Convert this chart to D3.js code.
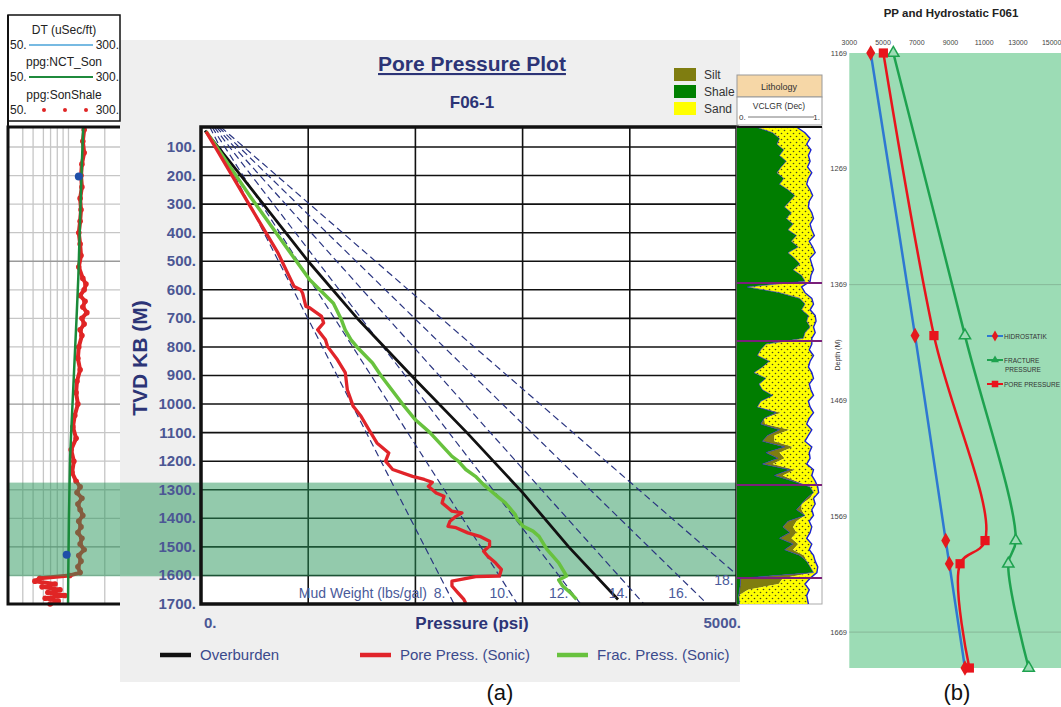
<!DOCTYPE html>
<html>
<head>
<meta charset="utf-8">
<script src="https://cdn.jsdelivr.net/npm/d3@7"></script>
<style>
body{margin:0;background:#fff}
svg{display:block;font-family:"Liberation Sans",Arial,sans-serif}
</style>
</head>
<body>
<div id="chart"></div>
<script>
// ---------- (a) pore pressure plot ----------
var depthTicks = [100,200,300,400,500,600,700,800,900,1000,1100,1200,1300,1400,1500,1600,1700];
var pressureGrid = [1000,2000,3000,4000];
var mudWeights = [8,10,12,14,16,18];

var obDepth = [43,204,500,705,915,1100,1310,1500,1684];
var obPsi   = [37,380,1000,1470,2000,2480,3000,3430,3890];

var ppDepth = [46,309,471,588,600,612,658,663,693,716,740,775,798,845,890,950,1008,1043,1090,1136,1171,1200,1229,1253,1264,1274,1288,1311,1323,1346,1375,1381,1393,1410,1428,1433,1451,1463,1480,1497,1515,1532,1556,1579,1602,1604,1620,1637,1661,1684,1697];
var ppPsi   = [48,461,718,868,930,948,978,1014,1125,1144,1088,1161,1180,1273,1346,1365,1420,1493,1567,1641,1752,1722,1788,1973,2083,2158,2121,2194,2267,2249,2341,2434,2379,2323,2304,2379,2489,2600,2692,2692,2636,2673,2747,2802,2784,2563,2341,2341,2397,2452,2470];

var fpDepth = [46,274,449,565,647,705,740,775,800,856,900,1000,1055,1100,1183,1200,1229,1253,1282,1300,1323,1346,1387,1404,1428,1445,1463,1509,1556,1602,1616,1637,1661,1684];
var fpPsi   = [48,461,793,1014,1235,1310,1345,1400,1455,1600,1678,1880,2000,2136,2341,2400,2470,2560,2636,2692,2765,2839,2932,2950,3006,3097,3153,3227,3337,3410,3337,3374,3448,3503];

var zoneTop = 1275, zoneBase = 1603;

// left log track (DT / NCT / SonShale)
var trackGrid = [83,106,129,145,160,173,185,266];
var nctDepth = [30,150,300,450,555,700,900,1100,1194,1400,1600,1700];
var nctDT    = [218,215,212,209,207,203,197,191,188.5,186,184.5,184];
var sonDepth = [40,80,120,160,200,240,280,320,360,400,440,480,520,560,580,600,620,640,660,680,700,720,740,760,800,840,880,920,960,1000,1040,1080,1120,1160,1200,1240,1270,1290,1310,1330,1350,1370,1390,1410,1430,1450,1470,1490,1510,1530,1550,1570,1590,1600,1610,1620,1630,1640,1650,1660,1670,1680,1690,1700];
var sonDT    = [220,217,220,215,213,215,211,213,211,208,211,213,208,217,224,220,211,222,217,226,215,220,211,215,208,206,211,204,202,206,199,195,202,191,197,193,202,211,204,215,206,211,217,208,213,206,215,211,220,208,213,206,211,188,121,110,155,126,166,139,177,133,162,144];
var refDepth = [203,1528];
var refDT    = [208,181];

// lithology track (VCLGR fractions)
var lithoDepth = [30,50,70,90,110,130,150,170,190,210,230,250,270,290,310,330,350,370,390,410,430,450,470,490,510,530,550,570,
  590,610,630,650,670,690,710,730,750,770,
  790,810,830,850,870,890,910,930,950,970,990,1010,1030,1050,1070,1090,1110,1130,1150,1170,1190,1210,1230,1250,1270,
  1290,1310,1330,1350,1370,1390,1410,1430,1450,1470,1490,1510,1530,1550,1570,1590,
  1610,1630,1650,1670,1700];
var shaleFrac = [0.22,0.42,0.5,0.47,0.55,0.5,0.58,0.52,0.47,0.55,0.5,0.6,0.68,0.62,0.56,0.64,0.58,0.66,0.6,0.7,0.64,0.72,0.6,0.68,0.74,0.66,0.76,0.8,
  0.12,0.5,0.74,0.8,0.76,0.84,0.82,0.86,0.8,0.78,
  0.34,0.28,0.24,0.38,0.3,0.2,0.34,0.26,0.3,0.42,0.28,0.24,0.46,0.32,0.28,0.5,0.36,0.3,0.56,0.34,0.48,0.3,0.62,0.44,0.66,
  0.86,0.9,0.82,0.76,0.7,0.8,0.6,0.54,0.62,0.5,0.66,0.56,0.74,0.82,0.86,0.9,
  0.04,0.04,0.03,0.02,0.03];
var siltFrac = [0,0,0,0,0,0,0,0,0,0,0,0,0,0,0,0,0,0,0,0,0,0,0,0,0,0,0,0,
  0,0,0,0,0,0,0,0,0,0,
  0,0,0,0,0,0,0,0,0,0,0,0,0.06,0,0.05,0.12,0.08,0.14,0.1,0.16,0.08,0.12,0.06,0.1,0.04,
  0,0,0.04,0,0.06,0,0.1,0.12,0.08,0.14,0.06,0.1,0.05,0,0,0,
  0.5,0.45,0.1,0,0];
var sandEdge = [0.7,0.8,0.86,0.82,0.87,0.84,0.86,0.83,0.88,0.84,0.82,0.86,0.89,0.85,0.84,0.88,0.9,0.86,0.88,0.91,0.85,0.89,0.92,0.86,0.88,0.9,0.87,0.86,
  0.76,0.8,0.88,0.9,0.86,0.92,0.93,0.9,0.92,0.88,
  0.88,0.85,0.9,0.86,0.84,0.88,0.9,0.85,0.87,0.9,0.84,0.86,0.9,0.85,0.82,0.88,0.84,0.8,0.88,0.85,0.86,0.82,0.9,0.88,0.92,
  0.95,0.96,0.9,0.92,0.88,0.9,0.85,0.88,0.86,0.82,0.88,0.85,0.9,0.92,0.95,0.94,
  0.86,0.8,0.85,0.82,0.84];
var lithoTops = [576,779,1283,1609];

// ---------- (b) PP and Hydrostatic ----------
var bDepth = [1169,1413,1590,1610,1700];
var bHydro = [4270,6900,8720,8930,9860];
var bPore  = [5020,8020,11050,9570,10120];
var bFrac  = [5610,9860,12870,12430,13640];
var bTicksX = [3000,5000,7000,9000,11000,13000,15000];
var bTicksY = [1169,1269,1369,1469,1569,1669];
var bGrid = [1369,1669];

var navy = "#2c3476", slate = "#4b5794";

var svg = d3.select("#chart").append("svg").attr("width",1061).attr("height",707);
var defs = svg.append("defs");
defs.append("clipPath").attr("id","plotClip").append("rect")
  .attr("x",201).attr("y",127).attr("width",536).attr("height",477);
var pat = defs.append("pattern").attr("id","sand").attr("patternUnits","userSpaceOnUse")
  .attr("width",6).attr("height",6);
pat.append("rect").attr("width",6).attr("height",6).attr("fill","#ffff00");
pat.append("circle").attr("cx",1.5).attr("cy",1.5).attr("r",0.8).attr("fill","#4a4a20");
pat.append("circle").attr("cx",4.5).attr("cy",4.5).attr("r",0.8).attr("fill","#4a4a20");

svg.append("rect").attr("width",1061).attr("height",707).attr("fill","#fff");
svg.append("rect").attr("x",120).attr("y",40).attr("width",620).attr("height",642).attr("fill","#efefef");

var y = d3.scaleLinear().domain([30,1700]).range([127,604]);
var x = d3.scaleLinear().domain([0,5000]).range([201,737]);
var xDT = d3.scaleLinear().domain([50,300]).range([8,120]);
var xV = d3.scaleLinear().domain([0,1]).range([737,822]);

// ----- left track -----
var hdr = svg.append("g");
hdr.append("rect").attr("x",8).attr("y",15).attr("width",112).attr("height",106)
  .attr("fill","#fff").attr("stroke","#111").attr("stroke-width",1.5);
var hdrRows = [["DT (uSec/ft)",34,"line","#4aa3d8"],["ppg:NCT_Son",66,"line","#1f8a3c"],["ppg:SonShale",99,"dots","#e02525"]];
hdrRows.forEach(function(r){
  hdr.append("text").attr("x",64).attr("y",r[1]).attr("text-anchor","middle")
    .attr("font-size",12).attr("fill","#222").text(r[0]);
  hdr.append("text").attr("x",10).attr("y",r[1]+15).attr("font-size",12).attr("fill","#222").text("50.");
  hdr.append("text").attr("x",119).attr("y",r[1]+15).attr("text-anchor","end").attr("font-size",12).attr("fill","#222").text("300.");
  if (r[2]=="line") {
    hdr.append("line").attr("x1",29).attr("x2",93).attr("y1",r[1]+11).attr("y2",r[1]+11)
      .attr("stroke",r[3]).attr("stroke-width",r[3]=="#1f8a3c"?2:1.3);
  } else {
    [44,65,86].forEach(function(cx){
      hdr.append("circle").attr("cx",cx).attr("cy",r[1]+11).attr("r",2).attr("fill",r[3]);
    });
  }
});
svg.append("rect").attr("x",8).attr("y",127).attr("width",112).attr("height",477).attr("fill","#fff");
svg.append("g").selectAll("line").data(trackGrid).enter().append("line")
  .attr("x1",function(d){return xDT(d);}).attr("x2",function(d){return xDT(d);})
  .attr("y1",127).attr("y2",604).attr("stroke","#c6c6c6").attr("stroke-width",1.3);
svg.append("g").selectAll("line").data(depthTicks).enter().append("line")
  .attr("x1",8).attr("x2",120).attr("y1",function(d){return y(d);}).attr("y2",function(d){return y(d);})
  .attr("stroke",function(d){return d%500==0?"#9a9a9a":"#c6c6c6";}).attr("stroke-width",1.3);
var sonPts = sonDepth.map(function(d,i){return [xDT(sonDT[i]), y(d)];});
svg.append("path").attr("d",d3.line()(sonPts)).attr("fill","none")
  .attr("stroke","#e02525").attr("stroke-width",4).attr("stroke-linejoin","round");
svg.append("g").selectAll("circle").data(sonPts).enter().append("circle")
  .attr("cx",function(p){return p[0];}).attr("cy",function(p){return p[1];}).attr("r",2.8).attr("fill","#e02525");

// ----- main plot area -----
svg.append("rect").attr("x",201).attr("y",127).attr("width",536).attr("height",477).attr("fill","#fff");
svg.append("g").selectAll("line").data(depthTicks).enter().append("line")
  .attr("x1",201).attr("x2",737).attr("y1",function(d){return y(d);}).attr("y2",function(d){return y(d);})
  .attr("stroke","#111").attr("stroke-width",1.6);
svg.append("g").selectAll("line").data(pressureGrid).enter().append("line")
  .attr("x1",function(d){return x(d);}).attr("x2",function(d){return x(d);})
  .attr("y1",127).attr("y2",604).attr("stroke","#111").attr("stroke-width",1.6);

// shaded zone across left track + main plot
svg.append("rect").attr("x",8).attr("y",y(zoneTop)).attr("width",729).attr("height",y(zoneBase)-y(zoneTop))
  .attr("fill","rgba(40,150,90,0.5)");

var plot = svg.append("g").attr("clip-path","url(#plotClip)");
function mudPsi(mw,d){ return 0.052*mw*3.281*(d+30); }
plot.selectAll(".mw").data(mudWeights).enter().append("line")
  .attr("x1",function(m){return x(mudPsi(m,30));}).attr("y1",y(30))
  .attr("x2",function(m){return x(mudPsi(m,1700));}).attr("y2",y(1700))
  .attr("stroke","#2a3580").attr("stroke-width",1.2).attr("stroke-dasharray","7,4");

function curve(ds,ps){ return d3.line().x(function(d,i){return x(ps[i]);}).y(function(d){return y(d);})(ds); }
plot.append("path").attr("d",curve(obDepth,obPsi)).attr("fill","none").attr("stroke","#111").attr("stroke-width",2.8);
plot.append("path").attr("d",curve(fpDepth,fpPsi)).attr("fill","none").attr("stroke","#68c23e").attr("stroke-width",3.5).attr("stroke-linejoin","round");
plot.append("path").attr("d",curve(ppDepth,ppPsi)).attr("fill","none").attr("stroke","#e1242a").attr("stroke-width",3.3).attr("stroke-linejoin","round");

// NCT line and reference points drawn over the zone
svg.append("path").attr("d",d3.line().x(function(d,i){return xDT(nctDT[i]);}).y(function(d){return y(d);})(nctDepth))
  .attr("fill","none").attr("stroke","#1a8a3a").attr("stroke-width",2.5);
svg.append("g").selectAll("circle").data(refDepth).enter().append("circle")
  .attr("cx",function(d,i){return xDT(refDT[i]);}).attr("cy",function(d){return y(d);}).attr("r",4).attr("fill","#1f4fa8");

// frames
svg.append("rect").attr("x",201).attr("y",127).attr("width",536).attr("height",477)
  .attr("fill","none").attr("stroke","#111").attr("stroke-width",3.5);
svg.append("path").attr("d","M120,127H8V604H120").attr("fill","none").attr("stroke","#111").attr("stroke-width",3);
svg.append("line").attr("x1",8).attr("x2",8).attr("y1",15).attr("y2",127).attr("stroke","#111").attr("stroke-width",2);

// mud weight labels
svg.append("text").attr("x",427).attr("y",598).attr("text-anchor","end").attr("font-size",14)
  .attr("fill","#4a5a9a").text("Mud Weight (lbs/gal)");
svg.append("g").selectAll("text").data(mudWeights).enter().append("text")
  .attr("x",function(m){var px=x(mudPsi(m,1600)); return px>715?724:px;})
  .attr("y",function(m){return x(mudPsi(m,1600))>715?585:598;})
  .attr("text-anchor","middle").attr("font-size",14).attr("fill","#4a5a9a")
  .text(function(m){return m+".";});

// axis labels
svg.append("g").selectAll("text").data(depthTicks).enter().append("text")
  .attr("x",196).attr("y",function(d){return y(d)+5;}).attr("text-anchor","end")
  .attr("font-size",15).attr("font-weight","bold").attr("fill",slate).text(function(d){return d+".";});
svg.append("text").attr("transform","translate(147,358) rotate(-90)").attr("text-anchor","middle")
  .attr("font-size",21).attr("font-weight","bold").attr("fill",navy).text("TVD KB (M)");
svg.append("text").attr("x",x(0)+3).attr("y",628).attr("font-size",15).attr("font-weight","bold").attr("fill",slate).text("0.");
svg.append("text").attr("x",741).attr("y",628).attr("text-anchor","end").attr("font-size",15).attr("font-weight","bold").attr("fill",slate).text("5000.");
svg.append("text").attr("x",472).attr("y",629).attr("text-anchor","middle").attr("font-size",17).attr("font-weight","bold").attr("fill",navy).text("Pressure (psi)");
svg.append("text").attr("x",472).attr("y",71).attr("text-anchor","middle").attr("font-size",21).attr("font-weight","bold")
  .attr("fill",navy).attr("text-decoration","underline").text("Pore Pressure Plot");
svg.append("text").attr("x",472).attr("y",108).attr("text-anchor","middle").attr("font-size",17).attr("font-weight","bold").attr("fill",navy).text("F06-1");

// curve legend
var legA = [["Overburden","#111",160],["Pore Press. (Sonic)","#e1242a",360],["Frac. Press. (Sonic)","#68c23e",557]];
legA.forEach(function(l){
  svg.append("line").attr("x1",l[2]).attr("x2",l[2]+31).attr("y1",655).attr("y2",655).attr("stroke",l[1]).attr("stroke-width",4.5);
  svg.append("text").attr("x",l[2]+40).attr("y",660).attr("font-size",15).attr("fill","#3b4a8c").text(l[0]);
});

// lithology legend
var lithoLeg = [["Silt","#7f7d10",68],["Shale","#008000",85],["Sand","#ffff00",102]];
lithoLeg.forEach(function(l){
  svg.append("rect").attr("x",674).attr("y",l[2]).attr("width",22).attr("height",13).attr("fill",l[1]);
  svg.append("text").attr("x",704).attr("y",l[2]+11).attr("font-size",12).attr("fill","#333").text(l[0]);
});

// ----- lithology track -----
svg.append("rect").attr("x",737).attr("y",75).attr("width",85).attr("height",22).attr("fill","#f6d7a7").attr("stroke","#999");
svg.append("text").attr("x",779).attr("y",90).attr("text-anchor","middle").attr("font-size",9).attr("fill","#333").text("Lithology");
svg.append("rect").attr("x",737).attr("y",97).attr("width",85).attr("height",28).attr("fill","#fff").attr("stroke","#999");
svg.append("text").attr("x",779).attr("y",109).attr("text-anchor","middle").attr("font-size",8.5).attr("fill","#333").text("VCLGR (Dec)");
svg.append("text").attr("x",739).attr("y",120).attr("font-size",8).attr("fill","#333").text("0.");
svg.append("text").attr("x",820).attr("y",120).attr("text-anchor","end").attr("font-size",8).attr("fill","#333").text("1.");
svg.append("line").attr("x1",748).attr("x2",814).attr("y1",117).attr("y2",117).attr("stroke","#555").attr("stroke-width",0.8);
svg.append("rect").attr("x",737).attr("y",127).attr("width",85).attr("height",477).attr("fill","#fff").attr("stroke","#aaa");

var lith = lithoDepth.map(function(d,i){return {d:d,g:shaleFrac[i],s:siltFrac[i],e:sandEdge[i]};});
function band(a,b){ return d3.area().y(function(r){return y(r.d);}).x0(function(r){return xV(a(r));}).x1(function(r){return xV(b(r));})(lith); }
svg.append("path").attr("d",band(function(){return 0;},function(r){return r.g;})).attr("fill","#007d00");
svg.append("path").attr("d",band(function(r){return r.g;},function(r){return r.g+r.s;})).attr("fill","#7f7d10");
svg.append("path").attr("d",band(function(r){return r.g+r.s;},function(r){return r.e;})).attr("fill","url(#sand)");
svg.append("path").attr("d",d3.line().x(function(r){return xV(r.e);}).y(function(r){return y(r.d);})(lith))
  .attr("fill","none").attr("stroke","#1c24d0").attr("stroke-width",1.4);
svg.append("path").attr("d",d3.line().x(function(r){return xV(r.g);}).y(function(r){return y(r.d);})(lith))
  .attr("fill","none").attr("stroke","#1c24d0").attr("stroke-width",0.9).attr("opacity",0.7);
svg.append("g").selectAll("line").data(lithoTops).enter().append("line")
  .attr("x1",737).attr("x2",822).attr("y1",function(d){return y(d);}).attr("y2",function(d){return y(d);})
  .attr("stroke","#7a1f7a").attr("stroke-width",2);
svg.append("line").attr("x1",737).attr("x2",822).attr("y1",127).attr("y2",127).attr("stroke","#111").attr("stroke-width",2);

// ----- panel (b) -----
var xb = d3.scaleLinear().domain([3000,16000]).range([849.3,1068.5]);
var yb = d3.scaleLinear().domain([1169,1700]).range([53,668]);
svg.append("rect").attr("x",849.3).attr("y",53).attr("width",212).attr("height",615).attr("fill","#9cdcb5");
svg.append("g").selectAll("line").data(bGrid).enter().append("line")
  .attr("x1",849.3).attr("x2",1061).attr("y1",function(d){return yb(d);}).attr("y2",function(d){return yb(d);})
  .attr("stroke","#86b898").attr("stroke-width",1);
svg.append("text").attr("x",951).attr("y",17).attr("text-anchor","middle").attr("font-size",11.5)
  .attr("font-weight","bold").attr("fill","#222").text("PP and Hydrostatic F061");
svg.append("g").selectAll("text").data(bTicksX).enter().append("text")
  .attr("x",function(d){return xb(d);}).attr("y",45).attr("text-anchor","middle")
  .attr("font-size",7).attr("fill","#444").text(function(d){return d;});
svg.append("g").selectAll("text").data(bTicksY).enter().append("text")
  .attr("x",847).attr("y",function(d){return yb(d)+2.5;}).attr("text-anchor","end")
  .attr("font-size",7.5).attr("fill","#444").text(function(d){return d;});
svg.append("text").attr("transform","translate(840,355) rotate(-90)").attr("text-anchor","middle")
  .attr("font-size",7).attr("fill","#333").text("Depth (M)");

var bSeries = [
  {v:bHydro, line:"#2e78d2", mark:d3.symbolDiamond, size:70, fill:"#e41a1c", stroke:"none", name:["HIDROSTATIK"], ly:336},
  {v:bFrac,  line:"#1ea24f", mark:d3.symbolTriangle, size:55, fill:"#9cdcb5", stroke:"#1ea24f", name:["FRACTURE","PRESSURE"], ly:360},
  {v:bPore,  line:"#e8141c", mark:d3.symbolSquare, size:85, fill:"#e8141c", stroke:"none", name:["PORE PRESSURE"], ly:384}
];
bSeries.forEach(function(s){
  svg.append("path").attr("d",d3.line().curve(d3.curveCatmullRom.alpha(0.5))
      .x(function(d,i){return xb(s.v[i]);}).y(function(d){return yb(d);})(bDepth))
    .attr("fill","none").attr("stroke",s.line).attr("stroke-width",2.5);
  svg.append("g").selectAll("path").data(bDepth).enter().append("path")
    .attr("d",d3.symbol().type(s.mark).size(s.size))
    .attr("transform",function(d,i){return "translate("+xb(s.v[i])+","+yb(d)+")";})
    .attr("fill",s.fill).attr("stroke",s.stroke).attr("stroke-width",1.5);
  svg.append("line").attr("x1",987).attr("x2",1003).attr("y1",s.ly).attr("y2",s.ly).attr("stroke",s.line).attr("stroke-width",2);
  svg.append("path").attr("d",d3.symbol().type(s.mark).size(s.size*0.5)).attr("transform","translate(995,"+s.ly+")")
    .attr("fill",s.stroke=="none"?s.fill:s.line);
  s.name.forEach(function(t,k){
    svg.append("text").attr("x",1004+k).attr("y",s.ly+2.5+k*9.5).attr("font-size",6.5).attr("fill","#333").text(t);
  });
});

svg.append("text").attr("x",500).attr("y",700).attr("text-anchor","middle").attr("font-size",22).attr("fill","#111").text("(a)");
svg.append("text").attr("x",957).attr("y",700).attr("text-anchor","middle").attr("font-size",22).attr("fill","#111").text("(b)");
</script>
</body>
</html>
